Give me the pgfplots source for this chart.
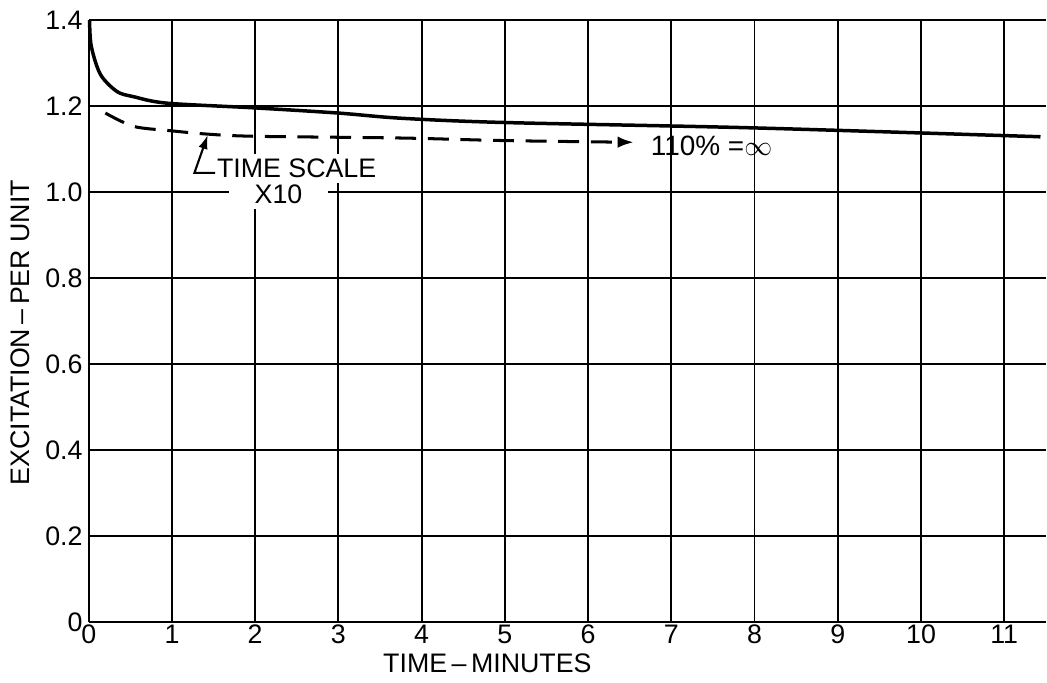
\documentclass[border=0pt]{standalone}
\usepackage{fontspec}
\setmainfont{Liberation Sans}
\usepackage{pgfplots}
\pgfplotsset{compat=1.18}
\usetikzlibrary{arrows.meta}
\begin{document}
\begin{tikzpicture}
\begin{axis}[
  name=ax,
  scale only axis,
  width=411pt, height=258.6pt,
  xmin=0, xmax=11.5, ymin=0, ymax=1.4,
  axis x line=bottom, axis y line=left,
  axis line style={-, line width=0.9pt},
  xtick={0,1,...,11}, ytick={0,0.2,...,1.4},
  yticklabels={0,0.2,0.4,0.6,0.8,1.0,1.2,1.4},
  xticklabels={0,1,2,3,4,5,6,7,8,9,10,11},
  tick style={draw=none},
  grid=major,
  major grid style={black, line width=0.8pt},
  /pgf/number format/assume math mode=true,
  tick label style={font=\fontsize{11.5}{12}\selectfont},
  yticklabel style={xshift=3pt},
  xticklabel style={yshift=4.5pt},
  xlabel={TIME\,--\,MINUTES},
  ylabel={EXCITATION\,--\,PER UNIT},
  label style={font=\fontsize{11.5}{12}\selectfont},
  xlabel style={at={(axis description cs:0.4165,0)}, anchor=center, yshift=-17.5pt},
  ylabel style={at={(axis description cs:-0.071,0.481)}, anchor=center, rotate=0},
  clip=false,
]
\addplot[black, line width=1.5pt, smooth] coordinates {
  (0.01,1.40) (0.03,1.34) (0.14,1.274) (0.34,1.234) (0.54,1.222) (0.94,1.207)
  (2,1.196) (3,1.184) (3.75,1.172) (5,1.162) (7.9,1.150) (11.1,1.131) (11.4,1.129)
};
\addplot[black, line width=1.3pt, dash pattern=on 9pt off 5pt, smooth, -{Latex[length=7pt,width=5pt]}] coordinates {
  (0.2,1.184) (0.54,1.153) (0.98,1.143) (1.43,1.135) (2,1.130) (3.75,1.126) (5,1.120) (6.55,1.116)
};
\node[anchor=west, font=\fontsize{12}{12}\selectfont, inner sep=1pt] at (axis cs:6.72,1.108) {110\% =$\infty$};
\node[fill=white, inner sep=2pt, anchor=west, font=\fontsize{11.5}{12}\selectfont] at (axis cs:1.48,1.055) {TIME SCALE};
\node[fill=white, inner xsep=11pt, inner ysep=2pt, font=\fontsize{11.5}{12}\selectfont] at (axis cs:2.28,0.995) {X10};
\draw[black, line width=0.9pt, -{Latex[length=6pt,width=4pt]}] (axis cs:1.52,1.045) -- (axis cs:1.27,1.045) -- (axis cs:1.43,1.133);
\end{axis}
\pgfresetboundingbox
\path (ax.south west) ++(-38.1pt,-26pt) rectangle ([xshift=0.5pt,yshift=8.66pt]ax.north east);
\end{tikzpicture}
\end{document}
